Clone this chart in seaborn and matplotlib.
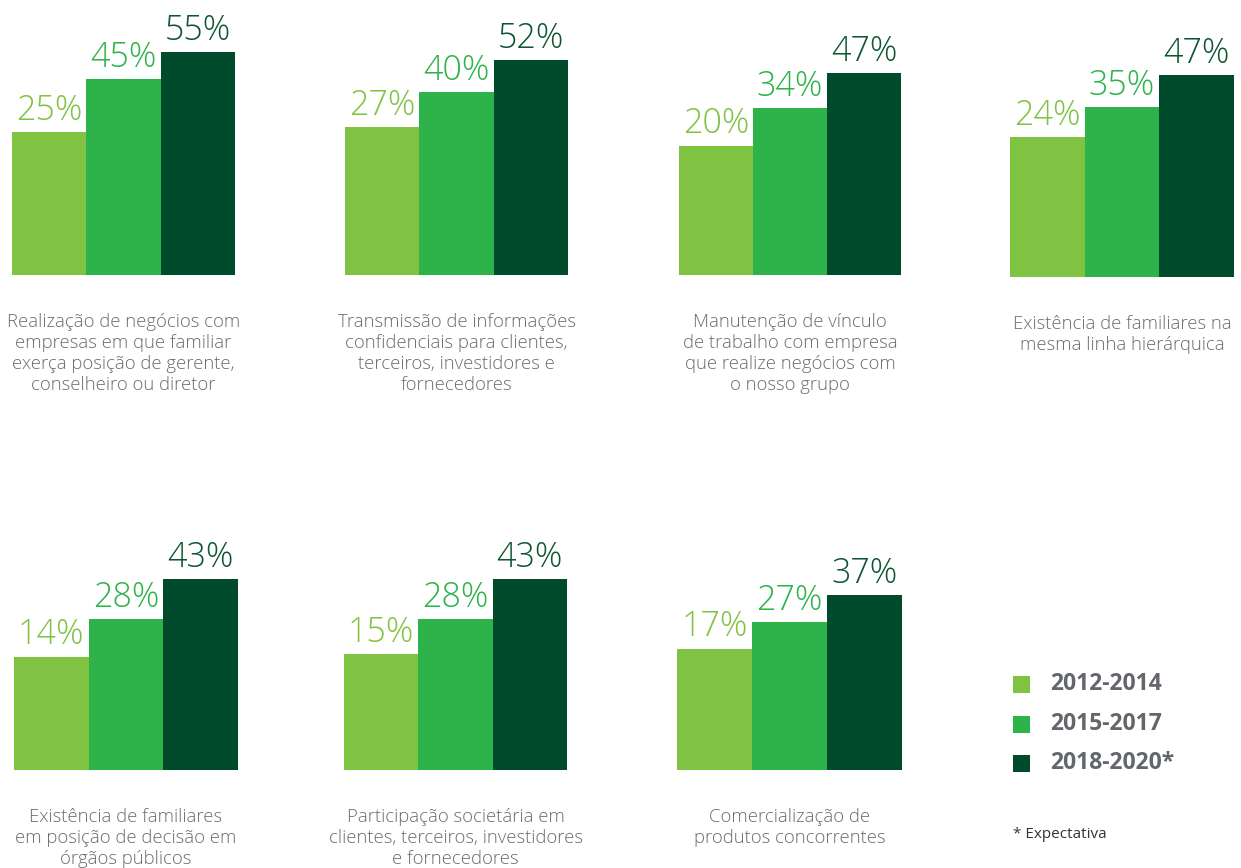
import pandas as pd
import seaborn as sns
import matplotlib.pyplot as plt
from matplotlib.patches import Rectangle

# Data
periods = ['2012-2014', '2015-2017', '2018-2020*']
categories = [
    'Realização de negócios com\nempresas em que familiar\nexerça posição de gerente,\nconselheiro ou diretor',
    'Transmissão de informações\nconfidenciais para clientes,\nterceiros, investidores e\nfornecedores',
    'Manutenção de vínculo\nde trabalho com empresa\nque realize negócios com\no nosso grupo',
    'Existência de familiares na\nmesma linha hierárquica',
    'Existência de familiares\nem posição de decisão em\nórgãos públicos',
    'Participação societária em\nclientes, terceiros, investidores\ne fornecedores',
    'Comercialização de\nprodutos concorrentes',
]
values_2012_2014 = [25, 27, 20, 24, 14, 15, 17]
values_2015_2017 = [45, 40, 34, 35, 28, 28, 27]
values_2018_2020 = [55, 52, 47, 47, 43, 43, 37]
footnote = '* Expectativa'

bar_colors = ['#80C342', '#2DB34A', '#004B2C']
label_colors = ['#80C342', '#2DB34A', '#0E5534']

rows = []
for i, cat in enumerate(categories):
    for p, vals in zip(periods, [values_2012_2014, values_2015_2017, values_2018_2020]):
        rows.append({'Categoria': cat, 'Periodo': p, 'Valor': vals[i]})
df = pd.DataFrame(rows)

sns.set_theme(style='white')
plt.rcParams['font.family'] = ['Open Sans', 'DejaVu Sans']

W, H = 1241, 868
fig = plt.figure(figsize=(W / 100, H / 100), dpi=100)

# panel placement in pixels (left, right, baseline)
lefts = [12, 345, 679, 1010, 14, 344, 677]
rights = [235, 568, 901, 1234, 238, 567, 902]
baselines = [275, 275, 275, 277, 770, 770, 770]
AX_H = 275
BASE = -28.5          # bars in the source do not start at zero
PX_PER_UNIT = 2.67

for i, cat in enumerate(categories):
    l, r, b = lefts[i], rights[i], baselines[i]
    ax = fig.add_axes([l / W, 1 - b / H, (r - l) / W, AX_H / H])
    sub = df[df['Categoria'] == cat]
    sns.barplot(data=sub, x='Periodo', y='Valor', hue='Periodo', order=periods,
                hue_order=periods, palette=bar_colors, width=1, legend=False,
                ax=ax, errorbar=None, saturation=1, linewidth=0)
    for patch in ax.patches:
        h = patch.get_height()
        patch.set_y(BASE)
        patch.set_height(h - BASE)
    ax.set_xlim(-0.5, 2.5)
    ax.set_ylim(BASE, BASE + AX_H / PX_PER_UNIT)
    for j, v in enumerate(sub.set_index('Periodo').loc[periods, 'Valor']):
        ax.annotate(f'{v}%', (j, v), xytext=(0, 3), textcoords='offset points',
                    ha='center', va='bottom', fontsize=24.5, fontweight='light',
                    color=label_colors[j])
    ax.axis('off')
    fig.text((l + r) / 2 / W, 1 - (b + 38) / H, cat, ha='center', va='top',
             fontsize=13.3, fontweight='light', color='#6b6b6b', linespacing=1.22)

# legend drawn by hand
legend_y = [684, 724, 763]
for p, c, y in zip(periods, bar_colors, legend_y):
    fig.add_artist(Rectangle((1013 / W, 1 - (y + 8.5) / H), 17 / W, 17 / H,
                             transform=fig.transFigure, color=c, lw=0))
    fig.text(1050 / W, 1 - y / H, p, ha='left', va='center', fontsize=16.5,
             fontweight='bold', color='#63666A')
fig.text(1013 / W, 1 - 834 / H, footnote, ha='left', va='center', fontsize=11,
         color='#333333')

plt.savefig('out.png', dpi=100)
